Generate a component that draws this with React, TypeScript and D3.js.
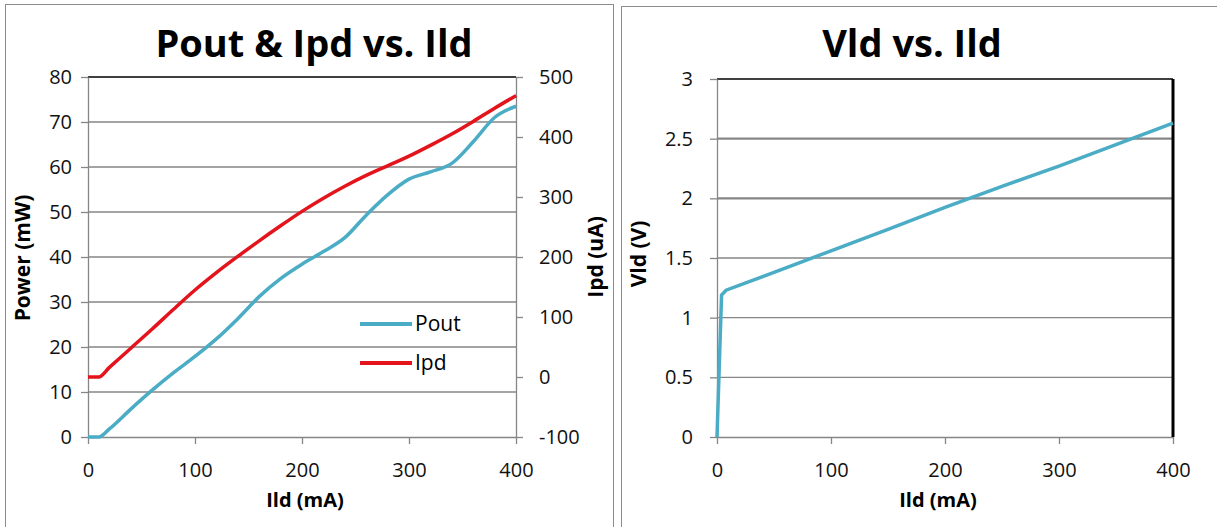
import { useEffect, useRef } from "react";
import * as d3 from "d3";

// Ild (mA) sample points
const ild = [0, 10, 20, 40, 60, 80, 100, 120, 140, 160, 180, 200, 220, 240, 260, 280, 300, 320, 340, 360, 380, 400];
// Pout (mW)
const pout = [0, 0, 1.8, 6.2, 10.4, 14.3, 17.9, 21.8, 26.3, 31.2, 35.2, 38.4, 41.2, 44.3, 49.3, 53.8, 57.3, 58.9, 60.8, 65.6, 71, 73.5];
// Ipd (uA)
const ipd = [0, 0, 16, 48, 80, 113, 145, 174, 201, 227, 252, 276, 298, 318, 336, 352, 368, 386, 405, 426, 448, 469];
// Vld vs Ild
const ildV = [0, 4, 8, 50, 100, 150, 200, 250, 300, 350, 400];
const vld = [0, 1.19, 1.23, 1.38, 1.56, 1.74, 1.925, 2.1, 2.27, 2.45, 2.63];

const powerTicks = [0, 10, 20, 30, 40, 50, 60, 70, 80];
const ipdTicks = [-100, 0, 100, 200, 300, 400, 500];
const vldTicks = [0, 0.5, 1, 1.5, 2, 2.5, 3];
const ildTicks = [0, 100, 200, 300, 400];

const FONT = "'Open Sans', sans-serif";
const GRID = "#868686";
const TEAL = "#4bacc6";
const RED = "#e3141c";

export default function App() {
  const ref = useRef(null);

  useEffect(() => {
    const svg = d3.select(ref.current);
    svg.selectAll("*").remove();

    // panel frames
    svg.append("rect").attr("x", 5.5).attr("y", 4.5).attr("width", 608).attr("height", 540)
      .attr("fill", "#fff").attr("stroke", "#8c8c8c");
    svg.append("rect").attr("x", 621.5).attr("y", 6.5).attr("width", 610).attr("height", 540)
      .attr("fill", "#fff").attr("stroke", "#8c8c8c");

    const styleAxis = (g) => {
      g.selectAll("path").attr("stroke", GRID).attr("stroke-width", 1.3);
      g.selectAll("line").attr("stroke", GRID).attr("stroke-width", 1.3);
      g.selectAll("text").attr("font-family", FONT).attr("font-size", 20).attr("fill", "#111");
    };
    const fmt = (d) => String(d);

    // ---------- left chart ----------
    const x = d3.scaleLinear().domain([0, 400]).range([88, 516]);
    const yL = d3.scaleLinear().domain([0, 80]).range([437, 77]);
    const yR = d3.scaleLinear().domain([-100, 500]).range([437, 77]);

    svg.append("g").selectAll("line").data(powerTicks.slice(1, -1)).enter().append("line")
      .attr("x1", x(0)).attr("x2", x(400)).attr("y1", (d) => yL(d)).attr("y2", (d) => yL(d))
      .attr("stroke", GRID).attr("stroke-width", 1.3);
    svg.append("line").attr("x1", x(0)).attr("x2", x(400)).attr("y1", yL(80)).attr("y2", yL(80))
      .attr("stroke", "#000").attr("stroke-width", 1.3);

    svg.append("g").attr("transform", "translate(88,0)")
      .call(d3.axisLeft(yL).tickValues(powerTicks).tickSize(7).tickSizeOuter(0).tickPadding(9).tickFormat(fmt))
      .call(styleAxis);
    svg.append("g").attr("transform", "translate(516,0)")
      .call(d3.axisRight(yR).tickValues(ipdTicks).tickSize(7).tickSizeOuter(0).tickPadding(16).tickFormat(fmt))
      .call(styleAxis);
    svg.append("g").attr("transform", "translate(0,437)")
      .call(d3.axisBottom(x).tickValues(ildTicks).tickSize(7).tickSizeOuter(0).tickPadding(19).tickFormat(fmt))
      .call(styleAxis);

    const linePout = d3.line().x((d, i) => x(ild[i])).y((d) => yL(d)).curve(d3.curveMonotoneX);
    const lineIpd = d3.line().x((d, i) => x(ild[i])).y((d) => yR(d)).curve(d3.curveMonotoneX);
    svg.append("path").attr("d", linePout(pout)).attr("fill", "none").attr("stroke", TEAL).attr("stroke-width", 3.5);
    svg.append("path").attr("d", lineIpd(ipd)).attr("fill", "none").attr("stroke", RED).attr("stroke-width", 3.5);

    // legend
    const legend = [
      { name: "Pout", color: TEAL, y: 324 },
      { name: "Ipd", color: RED, y: 363 },
    ];
    legend.forEach((l) => {
      svg.append("line").attr("x1", 360).attr("x2", 412).attr("y1", l.y).attr("y2", l.y)
        .attr("stroke", l.color).attr("stroke-width", 4);
      svg.append("text").attr("x", 415).attr("y", l.y + 7).attr("font-family", FONT)
        .attr("font-size", 21).text(l.name);
    });

    svg.append("text").attr("x", 314).attr("y", 57).attr("text-anchor", "middle")
      .attr("font-family", FONT).attr("font-weight", "bold").attr("font-size", 38)
      .text("Pout & Ipd vs. Ild");
    svg.append("text").attr("transform", "translate(22,258) rotate(-90)").attr("text-anchor", "middle")
      .attr("dominant-baseline", "central").attr("font-family", FONT).attr("font-weight", "bold")
      .attr("font-size", 21).text("Power (mW)");
    svg.append("text").attr("transform", "translate(595,257) rotate(-90)").attr("text-anchor", "middle")
      .attr("dominant-baseline", "central").attr("font-family", FONT).attr("font-weight", "bold")
      .attr("font-size", 21).text("Ipd (uA)");
    svg.append("text").attr("x", 305).attr("y", 507).attr("text-anchor", "middle")
      .attr("font-family", FONT).attr("font-weight", "bold").attr("font-size", 20).text("Ild (mA)");

    // ---------- right chart ----------
    const x2 = d3.scaleLinear().domain([0, 400]).range([717, 1173]);
    const y2 = d3.scaleLinear().domain([0, 3]).range([437, 79]);

    svg.append("g").selectAll("line").data(vldTicks.slice(1, -1)).enter().append("line")
      .attr("x1", x2(0)).attr("x2", x2(400)).attr("y1", (d) => y2(d)).attr("y2", (d) => y2(d))
      .attr("stroke", GRID).attr("stroke-width", (d) => (d >= 2 ? 2.2 : 1.3));
    svg.append("line").attr("x1", x2(0)).attr("x2", x2(400)).attr("y1", y2(3)).attr("y2", y2(3))
      .attr("stroke", "#000").attr("stroke-width", 1.3);

    svg.append("g").attr("transform", "translate(717,0)")
      .call(d3.axisLeft(y2).tickValues(vldTicks).tickSize(7).tickSizeOuter(0).tickPadding(17).tickFormat(fmt))
      .call(styleAxis);
    svg.append("g").attr("transform", "translate(0,437)")
      .call(d3.axisBottom(x2).tickValues(ildTicks).tickSize(7).tickSizeOuter(0).tickPadding(19).tickFormat(fmt))
      .call(styleAxis);
    svg.append("line").attr("x1", x2(400)).attr("x2", x2(400)).attr("y1", y2(3)).attr("y2", y2(0))
      .attr("stroke", "#000").attr("stroke-width", 3);

    const lineV = d3.line().x((d, i) => x2(ildV[i])).y((d) => y2(d));
    svg.append("path").attr("d", lineV(vld)).attr("fill", "none").attr("stroke", TEAL).attr("stroke-width", 3.5);

    svg.append("text").attr("x", 912).attr("y", 57).attr("text-anchor", "middle")
      .attr("font-family", FONT).attr("font-weight", "bold").attr("font-size", 38)
      .text("Vld vs. Ild");
    svg.append("text").attr("transform", "translate(638,254) rotate(-90)").attr("text-anchor", "middle")
      .attr("dominant-baseline", "central").attr("font-family", FONT).attr("font-weight", "bold")
      .attr("font-size", 21).text("Vld (V)");
    svg.append("text").attr("x", 938).attr("y", 507).attr("text-anchor", "middle")
      .attr("font-family", FONT).attr("font-weight", "bold").attr("font-size", 20).text("Ild (mA)");
  }, []);

  return (
    <svg ref={ref} width={1217} height={527}
      style={{ position: "absolute", left: 0, top: 0, background: "#fff" }} />
  );
}
